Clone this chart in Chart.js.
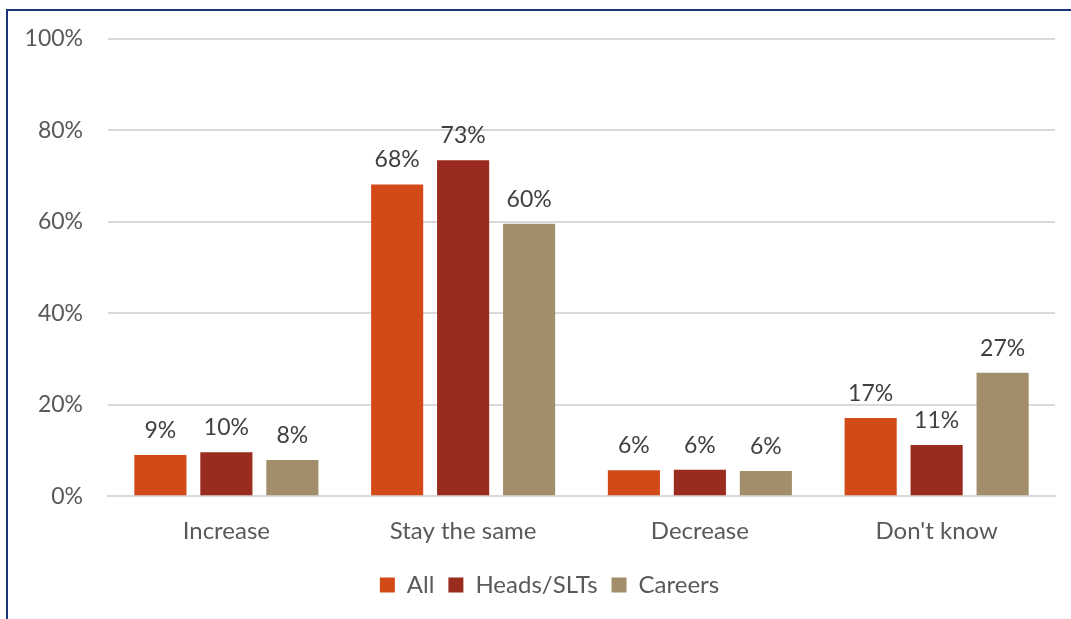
<!DOCTYPE html>
<html>
<head>
<meta charset="utf-8">
<script src="https://cdn.jsdelivr.net/npm/chart.js@4/dist/chart.umd.min.js"></script>
<style>
  body { margin: 0; background: #fff; }
  #frame {
    position: absolute; left: 6px; top: 9px; width: 1065px; height: 610px;
    border-left: 2px solid #1c3578; border-top: 2px solid #1c3578;
    box-sizing: border-box;
  }
  #wrap { position: absolute; left: 0; top: 0; width: 1063px; height: 608px; }
</style>
</head>
<body>
<div id="frame"><div id="wrap"><canvas id="myChart"></canvas></div></div>
<script>
var categories = ["Increase", "Stay the same", "Decrease", "Don't know"];
var seriesNames = ["All", "Heads/SLTs", "Careers"];
var allValues = [9, 68, 6, 17];
var headsValues = [10, 73, 6, 11];
var careersValues = [8, 60, 6, 27];
// bar heights drawn slightly off the rounded labels, as in the picture
var allHeights = [9.0, 68.2, 5.7, 17.1];
var headsHeights = [9.6, 73.5, 5.8, 11.2];
var careersHeights = [7.9, 59.6, 5.5, 27.0];
var yTicks = [0, 20, 40, 60, 80, 100];
var colors = ["#d24a18", "#9a2b1f", "#a38e6b"];

var FONT = "Lato, 'Open Sans', sans-serif";

var labelPlugin = {
  id: "barLabels",
  afterLayout: function (chart) {
    // legend in the original sits a bit right of the canvas centre
    chart.legend.left += 36;
  },
  afterDatasetsDraw: function (chart) {
    var ctx = chart.ctx;
    ctx.save();
    ctx.font = "23px " + FONT;
    ctx.fillStyle = "#404040";
    ctx.textAlign = "center";
    ctx.textBaseline = "bottom";
    chart.data.datasets.forEach(function (ds, i) {
      chart.getDatasetMeta(i).data.forEach(function (bar, j) {
        ctx.fillText(ds.labels[j] + "%", bar.x, bar.y - 13);
      });
    });
    ctx.restore();
  }
};

function createChart() {
  var ctx = document.getElementById("myChart").getContext("2d");
  new Chart(ctx, {
    type: "bar",
    data: {
      labels: categories,
      datasets: [
        { label: seriesNames[0], data: allHeights, labels: allValues, backgroundColor: colors[0] },
        { label: seriesNames[1], data: headsHeights, labels: headsValues, backgroundColor: colors[1] },
        { label: seriesNames[2], data: careersHeights, labels: careersValues, backgroundColor: colors[2] }
      ]
    },
    options: {
      responsive: true,
      maintainAspectRatio: false,
      animation: false,
      categoryPercentage: 0.836,
      barPercentage: 0.79,
      layout: { padding: { left: 0, right: 16, top: 28, bottom: 12 } },
      plugins: {
        tooltip: { enabled: false },
        legend: {
          position: "bottom",
          labels: {
            font: { family: FONT, size: 24 },
            color: "#595959",
            boxWidth: 15,
            boxHeight: 15,
            padding: 14
          }
        }
      },
      scales: {
        x: {
          grid: { display: false },
          border: { color: "#d9d9d9", width: 2 },
          ticks: { font: { family: FONT, size: 24 }, color: "#595959", padding: 13 }
        },
        y: {
          min: 0,
          max: 100,
          afterFit: function (scale) {
            scale.width = 100;
            scale.paddingTop = 0;
            scale.paddingBottom = 0;
          },
          afterBuildTicks: function (scale) {
            scale.ticks = yTicks.map(function (v) { return { value: v }; });
          },
          grid: { color: "#d9d9d9", lineWidth: 2, drawTicks: false },
          border: { display: false },
          ticks: {
            font: { family: FONT, size: 23 },
            color: "#595959",
            padding: 25,
            callback: function (v) { return v + "%"; }
          }
        }
      }
    },
    plugins: [labelPlugin]
  });
}
createChart();
</script>
</body>
</html>
